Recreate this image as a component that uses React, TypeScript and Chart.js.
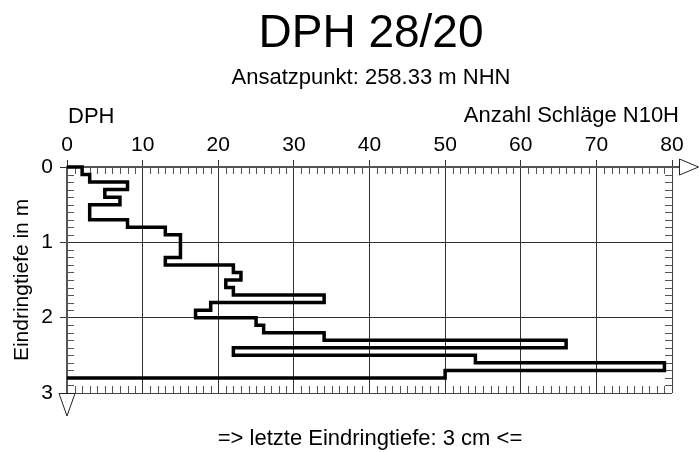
import React, { useEffect, useRef } from "react";
import { Chart, registerables } from "chart.js";

Chart.register(...registerables);

// ---- data ----
const depthBoundaries = [
  0.0, 0.1, 0.2, 0.3, 0.4, 0.5, 0.6, 0.7, 0.8, 0.9, 1.0, 1.1, 1.2, 1.3, 1.4,
  1.5, 1.6, 1.7, 1.8, 1.9, 2.0, 2.1, 2.2, 2.3, 2.4, 2.5, 2.6, 2.7, 2.8,
];
const blowCounts = [
  2, 3, 8, 5, 7, 3, 3, 8, 13, 15, 15, 15, 13, 22, 23, 21, 22, 34, 19, 17, 25, 26,
  34, 66, 22, 54, 79, 50,
];
const xTickValues = [0, 10, 20, 30, 40, 50, 60, 70, 80];
const depthTickValues = [0, 1, 2, 3];
const titleText = "DPH 28/20";
const subtitleText = "Ansatzpunkt: 258.33 m NHN";
const leftHeader = "DPH";
const rightHeader = "Anzahl Schläge N10H";
const yAxisTitle = "Eindringtiefe in m";
const footerText = "=> letzte Eindringtiefe: 3 cm <=";

const FONT = "'Liberation Sans', Arial, Helvetica, sans-serif";

function buildStepPoints() {
  const pts: { x: number; y: number }[] = [{ x: 0, y: depthBoundaries[0] }];
  for (let i = 0; i < blowCounts.length; i++) {
    pts.push({ x: blowCounts[i], y: depthBoundaries[i] });
    pts.push({ x: blowCounts[i], y: depthBoundaries[i + 1] });
  }
  pts.push({ x: 0, y: depthBoundaries[depthBoundaries.length - 1] });
  return pts;
}

const decorPlugin = {
  id: "decor",
  beforeDatasetsDraw(chart: any) {
    const { ctx, chartArea, scales } = chart;
    const xs = scales.x;
    const ys = scales.y;
    ctx.save();
    ctx.strokeStyle = "#555";
    ctx.lineWidth = 1;
    ctx.beginPath();
    for (let v = 1; v < 80; v++) {
      if (v % 10 === 0) continue;
      const px = Math.round(xs.getPixelForValue(v)) + 0.5;
      ctx.moveTo(px, chartArea.top);
      ctx.lineTo(px, chartArea.top + 7);
      ctx.moveTo(px, chartArea.bottom);
      ctx.lineTo(px, chartArea.bottom - 7);
    }
    for (let k = 1; k < 30; k++) {
      if (k % 10 === 0) continue;
      const py = Math.round(ys.getPixelForValue(k / 10)) + 0.5;
      ctx.moveTo(chartArea.left, py);
      ctx.lineTo(chartArea.left + 7, py);
      ctx.moveTo(chartArea.right, py);
      ctx.lineTo(chartArea.right - 7, py);
    }
    ctx.stroke();
    ctx.strokeStyle = "#444";
    ctx.beginPath();
    ctx.moveTo(chartArea.right + 0.5, chartArea.top);
    ctx.lineTo(chartArea.right + 0.5, chartArea.bottom);
    ctx.moveTo(chartArea.left, chartArea.bottom + 0.5);
    ctx.lineTo(chartArea.right, chartArea.bottom + 0.5);
    ctx.stroke();
    ctx.restore();
  },
  afterDraw(chart: any) {
    const { ctx, chartArea } = chart;
    ctx.save();
    ctx.strokeStyle = "#555";
    ctx.lineWidth = 2;
    ctx.beginPath();
    ctx.moveTo(chartArea.right, chartArea.top);
    ctx.lineTo(chartArea.right + 7, chartArea.top);
    ctx.stroke();
    ctx.lineWidth = 1;
    ctx.strokeStyle = "#222";
    ctx.fillStyle = "#fff";
    ctx.beginPath();
    ctx.moveTo(chartArea.right + 7.5, chartArea.top - 8);
    ctx.lineTo(chartArea.right + 26.5, chartArea.top);
    ctx.lineTo(chartArea.right + 7.5, chartArea.top + 8);
    ctx.closePath();
    ctx.fill();
    ctx.stroke();
    ctx.beginPath();
    ctx.moveTo(chartArea.left - 8, chartArea.bottom + 0.5);
    ctx.lineTo(chartArea.left + 8, chartArea.bottom + 0.5);
    ctx.lineTo(chartArea.left, chartArea.bottom + 23);
    ctx.closePath();
    ctx.fill();
    ctx.stroke();

    ctx.fillStyle = "#000";
    ctx.textBaseline = "alphabetic";
    ctx.textAlign = "center";
    ctx.font = `46px ${FONT}`;
    ctx.fillText(titleText, 371, 47);
    ctx.font = `22px ${FONT}`;
    ctx.fillText(subtitleText, 371, 84);
    ctx.textAlign = "left";
    ctx.fillText(leftHeader, 68, 123);
    ctx.textAlign = "right";
    ctx.fillText(rightHeader, 679, 122);
    ctx.textAlign = "center";
    ctx.fillText(footerText, 370, 445);
    ctx.restore();
  },
};

export default function App() {
  const canvasRef = useRef<HTMLCanvasElement | null>(null);

  useEffect(() => {
    if (!canvasRef.current) return;
    const chart = new Chart(canvasRef.current, {
      type: "scatter",
      data: {
        datasets: [
          {
            label: "N10H",
            data: buildStepPoints(),
            showLine: true,
            borderColor: "#000",
            borderWidth: 3.5,
            pointRadius: 0,
            tension: 0,
            fill: false,
            clip: 6,
            borderJoinStyle: "miter",
          } as any,
        ],
      },
      options: {
        responsive: false,
        animation: false,
        devicePixelRatio: 1,
        layout: { padding: { top: 0, left: 0, right: 27, bottom: 59 } },
        plugins: {
          legend: { display: false },
          tooltip: { enabled: false },
          title: { display: false },
        },
        scales: {
          x: {
            type: "linear",
            position: "top",
            min: 0,
            max: 80,
            afterBuildTicks: (s: any) => {
              s.ticks = xTickValues.map((v) => ({ value: v }));
            },
            afterFit: (s: any) => {
              s.height = 167;
            },
            ticks: {
              color: "#000",
              font: { family: FONT, size: 21 },
              padding: 2,
              maxRotation: 0,
            },
            grid: {
              color: "#333",
              lineWidth: 1,
              drawTicks: true,
              tickLength: 7,
            },
            border: { display: true, color: "#555", width: 2 },
          },
          y: {
            type: "linear",
            position: "left",
            reverse: true,
            min: 0,
            max: 3,
            afterBuildTicks: (s: any) => {
              s.ticks = depthTickValues.map((v) => ({ value: v }));
            },
            afterFit: (s: any) => {
              s.width = 67;
            },
            ticks: {
              color: "#000",
              font: { family: FONT, size: 21 },
              padding: 7,
            },
            grid: {
              color: "#333",
              lineWidth: 1,
              drawTicks: true,
              tickLength: 7,
            },
            border: { display: true, color: "#555", width: 2 },
            title: {
              display: true,
              text: yAxisTitle,
              color: "#000",
              font: { family: FONT, size: 21 },
              padding: { top: 10, bottom: 0 },
            },
          },
        },
      } as any,
      plugins: [decorPlugin],
    });
    return () => chart.destroy();
  }, []);

  return (
    <div style={{ position: "absolute", left: 0, top: 0, width: 699, height: 452, background: "#fff" }}>
      <canvas ref={canvasRef} width={699} height={452} style={{ display: "block", width: 699, height: 452 }} />
    </div>
  );
}
